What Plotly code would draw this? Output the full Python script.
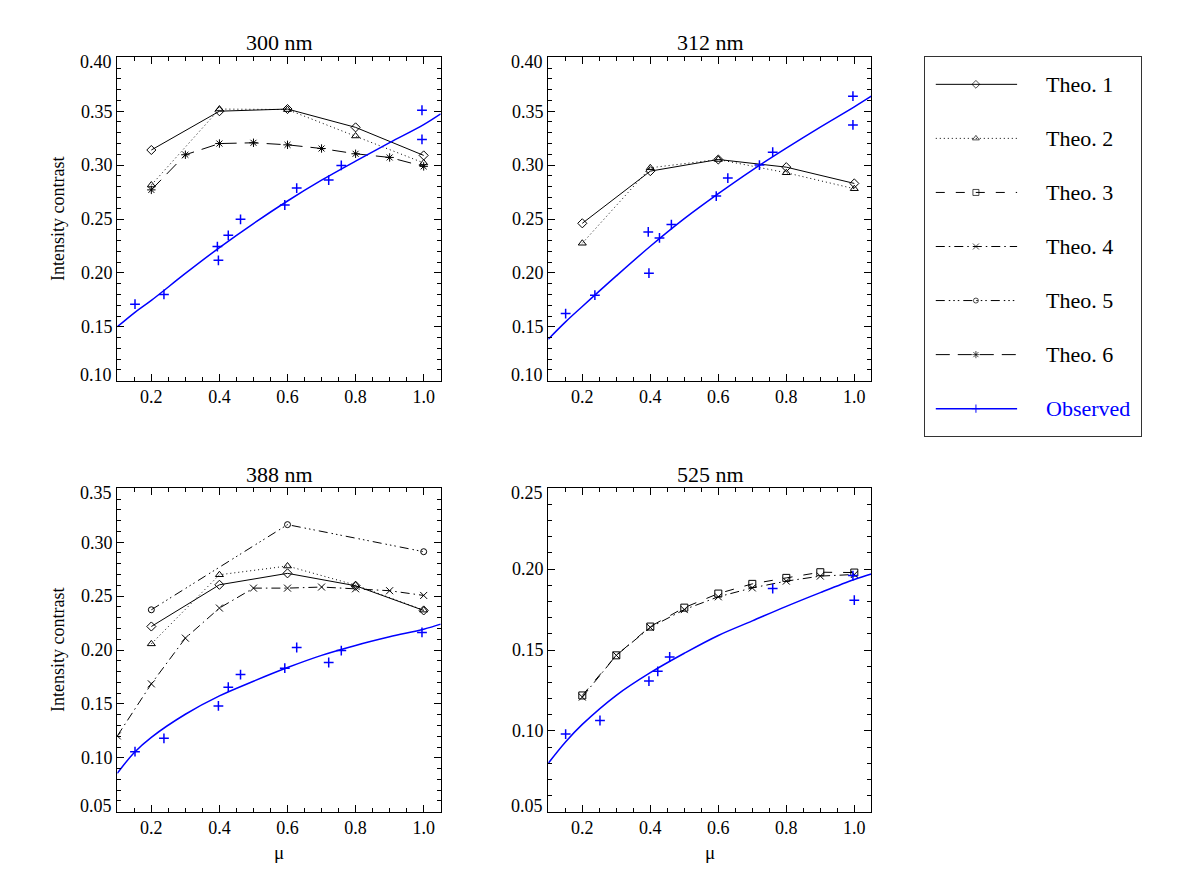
import plotly.graph_objects as go

# ---------------- data ----------------
mu_theo = [0.2, 0.4, 0.6, 0.8, 1.0]
mu_step = [0.2, 0.3, 0.4, 0.5, 0.6, 0.7, 0.8, 0.9, 1.0]
mu_step_full = [0.1, 0.2, 0.3, 0.4, 0.5, 0.6, 0.7, 0.8, 0.9, 1.0]
mu_theo5 = [0.2, 0.6, 1.0]
mu_fit = [0.1, 0.15, 0.2, 0.3, 0.4, 0.5, 0.6, 0.7, 0.8, 0.9, 1.0, 1.05]

# 300 nm
t1_300 = [0.314, 0.350, 0.352, 0.335, 0.309]
t2_300 = [0.2815, 0.352, 0.3515, 0.327, 0.302]
t6_300 = [0.277, 0.3096, 0.320, 0.3207, 0.3188, 0.3154, 0.3105, 0.3071, 0.2988]
mu_obs_300 = [0.152, 0.237, 0.394, 0.397, 0.426, 0.462, 0.592, 0.627, 0.721, 0.758, 0.995, 0.995]
obs_300 = [0.171, 0.180, 0.2244, 0.2117, 0.2349, 0.2497, 0.263, 0.2787, 0.2861, 0.2997, 0.3509, 0.3238]
fit_300 = [0.150, 0.163, 0.1745, 0.1995, 0.2235, 0.2458, 0.2667, 0.286, 0.3037, 0.3208, 0.3375, 0.3475]

# 312 nm
t1_312 = [0.246, 0.2944, 0.3052, 0.2981, 0.283]
t2_312 = [0.2275, 0.2975, 0.3052, 0.2929, 0.2781]
mu_obs_312 = [0.151, 0.237, 0.394, 0.396, 0.427, 0.462, 0.594, 0.628, 0.721, 0.760, 0.996, 0.996]
obs_312 = [0.1623, 0.1793, 0.238, 0.1997, 0.2324, 0.2448, 0.2713, 0.288, 0.300, 0.312, 0.3639, 0.3373]
fit_312 = [0.1385, 0.1543, 0.1688, 0.1972, 0.2247, 0.2503, 0.2735, 0.2954, 0.3157, 0.3352, 0.354, 0.3639]

# 388 nm
t1_388 = [0.2218, 0.2605, 0.2711, 0.2596, 0.2367]
t2_388 = [0.2057, 0.2698, 0.2779, 0.2602, 0.237]
t4_388 = [0.1203, 0.1686, 0.211, 0.2389, 0.2574, 0.2574, 0.2584, 0.2568, 0.255, 0.2506]
t5_388 = [0.2373, 0.3163, 0.2912]
mu_obs_388 = [0.152, 0.237, 0.397, 0.426, 0.462, 0.592, 0.627, 0.721, 0.758, 0.995]
obs_388 = [0.1057, 0.1181, 0.1481, 0.1655, 0.1772, 0.1831, 0.2023, 0.1884, 0.1995, 0.2163]
fit_388 = [0.0856, 0.105, 0.119, 0.1404, 0.1574, 0.171, 0.1837, 0.195, 0.2042, 0.2122, 0.2193, 0.224]

# 525 nm
t3_525 = [0.1219, 0.1467, 0.1645, 0.1762, 0.1849, 0.1909, 0.1946, 0.1981, 0.1979]
t4_525 = [0.1209, 0.1467, 0.164, 0.175, 0.1829, 0.1884, 0.1926, 0.1957, 0.1967]
mu_obs_525 = [0.151, 0.252, 0.396, 0.422, 0.457, 0.760, 0.996, 1.0]
obs_525 = [0.098, 0.1064, 0.1308, 0.1368, 0.1457, 0.188, 0.196, 0.1808]
fit_525 = [0.080, 0.093, 0.104, 0.122, 0.136, 0.148, 0.159, 0.168, 0.177, 0.1855, 0.1936, 0.197]

panel_titles = ["300 nm", "312 nm", "388 nm", "525 nm"]
legend_labels = ["Theo. 1", "Theo. 2", "Theo. 3", "Theo. 4", "Theo. 5", "Theo. 6", "Observed"]
x_ticks = [0.2, 0.4, 0.6, 0.8, 1.0]
y_ticks_300 = [0.10, 0.15, 0.20, 0.25, 0.30, 0.35, 0.40]
y_ticks_312 = [0.10, 0.15, 0.20, 0.25, 0.30, 0.35, 0.40]
y_ticks_388 = [0.05, 0.10, 0.15, 0.20, 0.25, 0.30, 0.35]
y_ticks_525 = [0.05, 0.10, 0.15, 0.20, 0.25]

# ---------------- styles ----------------
FONT = "Liberation Serif, Times New Roman, DejaVu Serif, serif"
BLUE = "#0000ff"
STY = {
    "Theo. 1": dict(dash="solid", symbol="diamond-open", size=7),
    "Theo. 2": dict(dash="1px,3px", symbol="triangle-up-open", size=7),
    "Theo. 3": dict(dash="9px,11px", symbol="square-open", size=7),
    "Theo. 4": dict(dash="9px,4px,1.5px,4px", symbol="x-thin-open", size=7),
    "Theo. 5": dict(dash="9px,4px,1.5px,3px,1.5px,3px,1.5px,4px", symbol="circle-open", size=6),
    "Theo. 6": dict(dash="14px,8px", symbol="asterisk-open", size=7),
}

fig = go.Figure()

def theo(name, x, y, ax):
    s = STY[name]
    fig.add_trace(go.Scatter(
        x=x, y=y, mode="lines+markers", xaxis="x" + ax, yaxis="y" + ax,
        line=dict(color="black", width=1, dash=s["dash"]),
        marker=dict(symbol=s["symbol"], size=s["size"], color="black",
                    line=dict(color="black", width=1)),
        showlegend=False, hoverinfo="skip"))

def observed(mu_o, o, fit, ax):
    fig.add_trace(go.Scatter(
        x=mu_fit, y=fit, mode="lines", xaxis="x" + ax, yaxis="y" + ax,
        line=dict(color=BLUE, width=1.5, shape="spline"),
        showlegend=False, hoverinfo="skip"))
    fig.add_trace(go.Scatter(
        x=mu_o, y=o, mode="markers", xaxis="x" + ax, yaxis="y" + ax,
        marker=dict(symbol="cross-thin-open", size=7, color=BLUE,
                    line=dict(color=BLUE, width=1.5)),
        showlegend=False, hoverinfo="skip"))

# panel 1
theo("Theo. 1", mu_theo, t1_300, "")
theo("Theo. 2", mu_theo, t2_300, "")
theo("Theo. 6", mu_step, t6_300, "")
observed(mu_obs_300, obs_300, fit_300, "")
# panel 2
theo("Theo. 1", mu_theo, t1_312, "2")
theo("Theo. 2", mu_theo, t2_312, "2")
observed(mu_obs_312, obs_312, fit_312, "2")
# panel 3
theo("Theo. 1", mu_theo, t1_388, "3")
theo("Theo. 2", mu_theo, t2_388, "3")
theo("Theo. 4", mu_step_full, t4_388, "3")
theo("Theo. 5", mu_theo5, t5_388, "3")
observed(mu_obs_388, obs_388, fit_388, "3")
# panel 4
theo("Theo. 3", mu_step, t3_525, "4")
theo("Theo. 4", mu_step, t4_525, "4")
observed(mu_obs_525, obs_525, fit_525, "4")

# ---------------- legend (drawn on its own hidden axes) ----------------
n = len(legend_labels)
for i, lab in enumerate(legend_labels):
    yy = 1 - (i + 0.5) / n
    if lab == "Observed":
        line = dict(color=BLUE, width=1.5)
        mk = dict(symbol="cross-thin-open", size=[0, 6, 0], color=BLUE,
                  line=dict(color=BLUE, width=1.4))
    else:
        s = STY[lab]
        line = dict(color="black", width=1, dash=s["dash"])
        mk = dict(symbol=s["symbol"], size=[0, s["size"] - 1, 0], color="black",
                  line=dict(color="black", width=1))
    fig.add_trace(go.Scatter(x=[0.05, 0.236, 0.427], y=[yy, yy, yy],
                             mode="lines+markers", xaxis="x5", yaxis="y5",
                             line=line, marker=mk, showlegend=False, hoverinfo="skip"))
    fig.add_annotation(x=0.55, y=yy, xref="x5", yref="y5", text=lab, showarrow=False,
                       xanchor="left", yanchor="middle",
                       font=dict(family=FONT, size=22, color=BLUE if lab == "Observed" else "black"))

# ---------------- layout ----------------
# page body has an 8px margin: the figure is sized to fit inside the window
OFF = 8
W, H = 1188 - 2 * OFF, 872 - 2 * OFF
def px_x(a, b):
    return [(a - OFF) / W, (b - OFF) / W]
def px_y(top, bot):
    return [1 - (bot - OFF) / H, 1 - (top - OFF) / H]
def pp(x, y):
    return (x - OFF) / W, 1 - (y - OFF) / H

XD = [px_x(117.3, 440.7), px_x(548.3, 871.3)]
YD = [px_y(57.3, 380.7), px_y(488.3, 811.7)]
YT = [y_ticks_300, y_ticks_312, y_ticks_388, y_ticks_525]

def xax(dom, anchor):
    return dict(domain=dom, anchor=anchor, range=[0.1, 1.05], tickvals=x_ticks,
                tickformat=".1f", showline=True, linecolor="black", linewidth=1.2,
                mirror="allticks", ticks="inside", ticklen=7, tickwidth=1, tickcolor="black",
                minor=dict(dtick=0.05, tick0=0, ticks="inside", ticklen=4, tickwidth=1,
                           tickcolor="black", showgrid=False),
                showgrid=False, zeroline=False, automargin=False,
                tickfont=dict(family=FONT, size=18, color="black"))

def yax(dom, anchor, ticks):
    # end labels are drawn as annotations (nudged inside, as in the original)
    text = [""] + ["%.2f" % v for v in ticks[1:-1]] + [""]
    return dict(domain=dom, anchor=anchor, range=[ticks[0], ticks[-1]],
                tickvals=ticks, ticktext=text,
                showline=True, linecolor="black", linewidth=1.2,
                mirror="allticks", ticks="inside", ticklen=7, tickwidth=1, tickcolor="black",
                minor=dict(dtick=0.01, tick0=0, ticks="inside", ticklen=4, tickwidth=1,
                           tickcolor="black", showgrid=False),
                showgrid=False, zeroline=False, automargin=False,
                tickfont=dict(family=FONT, size=18, color="black"))

fig.update_layout(
    width=W, height=H, margin=dict(l=0, r=0, t=0, b=0, autoexpand=False),
    paper_bgcolor="white", plot_bgcolor="white", showlegend=False,
    xaxis=xax(XD[0], "y"), yaxis=yax(YD[0], "x", YT[0]),
    xaxis2=xax(XD[1], "y2"), yaxis2=yax(YD[0], "x2", YT[1]),
    xaxis3=xax(XD[0], "y3"), yaxis3=yax(YD[1], "x3", YT[2]),
    xaxis4=xax(XD[1], "y4"), yaxis4=yax(YD[1], "x4", YT[3]),
    xaxis5=dict(domain=px_x(925, 1140.7), anchor="y5", range=[0, 1], showline=True,
                linecolor="#333", linewidth=1, mirror=True, showticklabels=False,
                ticks="", showgrid=False, zeroline=False, automargin=False),
    yaxis5=dict(domain=px_y(57.3, 435.7), anchor="x5", range=[0, 1], showline=True,
                linecolor="#333", linewidth=1, mirror=True, showticklabels=False,
                ticks="", showgrid=False, zeroline=False, automargin=False),
)

# end tick labels of the y axes
for ax, ticks in zip(["", "2", "3", "4"], YT):
    for v, shift in [(ticks[0], 6), (ticks[-1], -5)]:
        fig.add_annotation(x=0, y=v, xref="x%s domain" % ax, yref="y" + ax,
                           text="%.2f" % v, showarrow=False, xanchor="right",
                           yanchor="middle", xshift=-4, yshift=shift, borderpad=0,
                           font=dict(family=FONT, size=18, color="black"))

# panel titles
title_pos = [(279, 43), (710, 43), (279, 474), (710, 474)]
for t, (cx, cy) in zip(panel_titles, title_pos):
    x, y = pp(cx, cy)
    fig.add_annotation(x=x, y=y, xref="paper", yref="paper", text=t,
                       showarrow=False, xanchor="center", yanchor="middle",
                       font=dict(family=FONT, size=22, color="black"))
# axis titles
for cy in [219, 650]:
    x, y = pp(58, cy)
    fig.add_annotation(x=x, y=y, xref="paper", yref="paper",
                       text="Intensity contrast", textangle=-90, showarrow=False,
                       xanchor="center", yanchor="middle",
                       font=dict(family=FONT, size=18, color="black"))
for cx in [279, 710]:
    x, y = pp(cx, 852)
    fig.add_annotation(x=x, y=y, xref="paper", yref="paper",
                       text="μ", showarrow=False, xanchor="center", yanchor="middle",
                       font=dict(family=FONT, size=19, color="black"))

fig.write_html("out.html")
